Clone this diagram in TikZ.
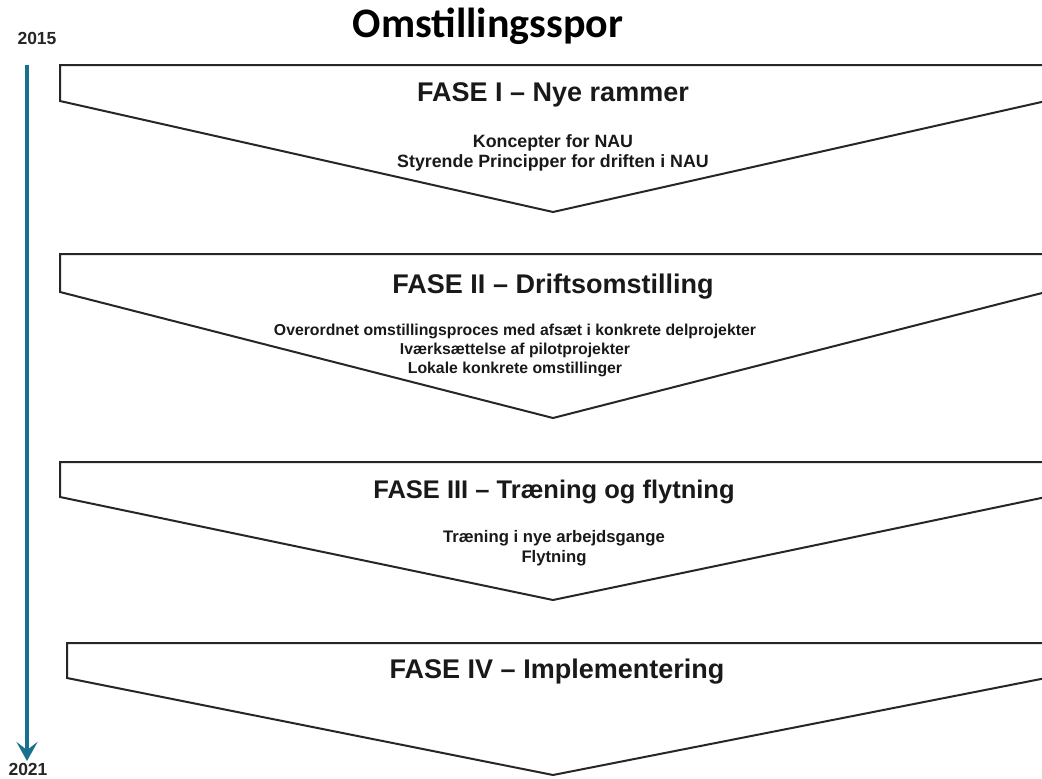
\documentclass[tikz,border=0pt]{standalone}
\usepackage{fontspec}
\setmainfont{Liberation Sans}
\newfontfamily\titlefont{Carlito}
\usetikzlibrary{arrows.meta}
\definecolor{timeline}{RGB}{24,112,142}
\begin{document}
\begin{tikzpicture}[x=1pt,y=-1pt,
  chevron/.style={draw=black!85, line width=2pt, line join=miter},
  heading/.style={anchor=base, font=\bfseries\fontsize{27}{32}\selectfont, inner sep=0pt, text=black!90},
  subline/.style={anchor=base, font=\bfseries\fontsize{16}{19}\selectfont, inner sep=0pt, text=black!90},
  yearlabel/.style={anchor=base, font=\bfseries\fontsize{17.5}{20}\selectfont, inner sep=0pt, text=black!85},
]
\useasboundingbox (0,0) rectangle (1042,779);
\clip (0,0) rectangle (1042,779);
\fill[white] (0,0) rectangle (1042,779);

% title
\node[anchor=base, inner sep=0pt, font=\titlefont\bfseries\fontsize{42}{50}\selectfont] (title) at (488,37) {Omstillingsspor};

% timeline
\node[yearlabel] (y2015) at (37,45) {2015};
\node[yearlabel] (y2021) at (28,775) {2021};
\coordinate (tlstart) at (27,65);
\coordinate (tlend) at (27,761);
\draw[timeline, line width=3.5pt, -{Stealth[length=19pt,width=21pt,inset=8pt]}] (tlstart) -- (tlend);

% chevrons
\draw[chevron] (1060,65) -- (60,65) -- (60,101) -- (553,212) -- (1046,101) -- (1046,65);
\draw[chevron] (1060,254) -- (60,254) -- (60,292) -- (553,418) -- (1046,292) -- (1046,254);
\draw[chevron] (1060,462) -- (60,462) -- (60,497) -- (553,600) -- (1046,497) -- (1046,462);
\draw[chevron] (1060,643) -- (67,643) -- (67,678) -- (553,775) -- (1046,678) -- (1046,643);

% FASE I
\node[heading] (f1) at (553,101) {FASE I – Nye rammer};
\node[subline, font=\bfseries\fontsize{17.8}{20}\selectfont] (f1a) at (553,147) {Koncepter for NAU};
\node[subline, font=\bfseries\fontsize{17.8}{20}\selectfont] (f1b) at (553,167) {Styrende Principper for driften i NAU};

% FASE II
\node[heading] (f2) at (553,293) {FASE II – Driftsomstilling};
\node[subline, font=\bfseries\fontsize{15.8}{19}\selectfont] (f2a) at (515,335) {Overordnet omstillingsproces med afsæt i konkrete delprojekter};
\node[subline, font=\bfseries\fontsize{15.8}{19}\selectfont] (f2b) at (515,354) {Iværksættelse af pilotprojekter};
\node[subline, font=\bfseries\fontsize{15.8}{19}\selectfont] (f2c) at (515,373) {Lokale konkrete omstillinger};

% FASE III
\node[heading, font=\bfseries\fontsize{25.5}{30}\selectfont] (f3) at (554,498) {FASE III – Træning og flytning};
\node[subline, font=\bfseries\fontsize{16.7}{19}\selectfont] (f3a) at (554,542) {Træning i nye arbejdsgange};
\node[subline, font=\bfseries\fontsize{16.7}{19}\selectfont] (f3b) at (554,562) {Flytning};

% FASE IV
\node[heading] (f4) at (557,678) {FASE IV – Implementering};
\end{tikzpicture}
\end{document}
